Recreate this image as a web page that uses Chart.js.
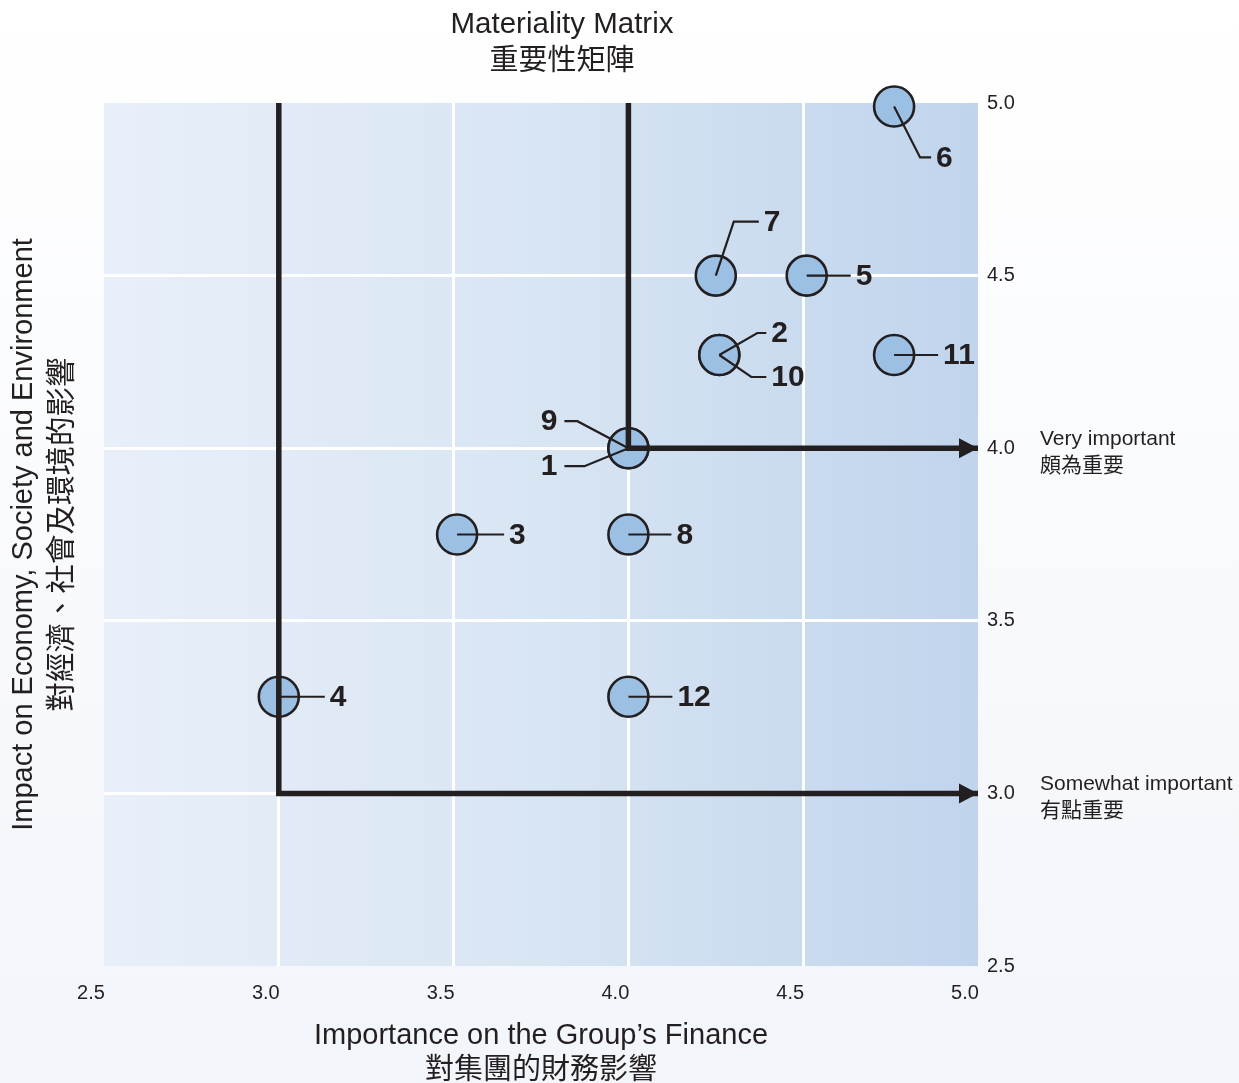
<!DOCTYPE html>
<html>
<head>
<meta charset="utf-8">
<title>Materiality Matrix</title>
<script src="https://cdn.jsdelivr.net/npm/chart.js@4.4.1/dist/chart.umd.min.js"></script>
<style>
  html, body { margin: 0; padding: 0; background: #fff; }
  #chart { display: block; }
</style>
</head>
<body>
<canvas id="chart" width="1239" height="1083"></canvas>
<script>
const issueIds = ['1', '2', '3', '4', '5', '6', '7', '8', '9', '10', '11', '12'];
const financeScores = [4.0, 4.26, 3.51, 3.0, 4.51, 4.76, 4.25, 4.0, 4.0, 4.26, 4.76, 4.0];
const impactScores = [4.0, 4.27, 3.75, 3.28, 4.5, 4.99, 4.5, 3.75, 4.0, 4.27, 4.27, 3.28];
const thresholds = [3.0, 4.0];
const thresholdNames = [['Somewhat important', '有點重要'], ['Very important', '頗為重要']];
const axisTicks = [2.5, 3.0, 3.5, 4.0, 4.5, 5.0];

// leader line per label: elbow offset from circle centre, then x where the flat end stops
const leaderLayout = [
    { elbow: [-44, 18], end: -64 },
    { elbow: [38, -22], end: 47 },
    { elbow: null, end: 47 },
    { elbow: null, end: 46 },
    { elbow: null, end: 44 },
    { elbow: [26, 51], end: 37 },
    { elbow: [18, -54], end: 43 },
    { elbow: null, end: 43 },
    { elbow: [-51, -27], end: -64 },
    { elbow: [32, 22], end: 47 },
    { elbow: null, end: 44 },
    { elbow: null, end: 44 }
];

const ink = '#231f20';
const latin = '"Liberation Sans", Arial, sans-serif';
const cjk = '"Noto Sans CJK TC", "Noto Sans CJK SC", sans-serif';

const ctx = document.querySelector('#chart').getContext('2d');

const points = issueIds.map((id, i) => ({ x: financeScores[i], y: impactScores[i] }));

const thresholdSets = thresholds.map(t => ({
    type: 'scatter',
    data: [{ x: t, y: axisTicks[axisTicks.length - 1] }, { x: t, y: t }, { x: axisTicks[axisTicks.length - 1], y: t }],
    showLine: true,
    borderColor: ink,
    borderWidth: 5.5,
    borderJoinStyle: 'miter',
    pointRadius: 0,
    order: 0
}));

const matrixDecor = {
    id: 'matrixDecor',
    beforeDraw(chart) {
        const { ctx, chartArea: a } = chart;
        ctx.save();
        const page = ctx.createLinearGradient(0, 0, 0, chart.height);
        page.addColorStop(0, '#ffffff');
        page.addColorStop(1, '#f2f5fa');
        ctx.fillStyle = page;
        ctx.fillRect(0, 0, chart.width, chart.height);

        const bg = ctx.createLinearGradient(a.left, 0, a.right, 0);
        bg.addColorStop(0, '#e8eff9');
        bg.addColorStop(0.5, '#d8e5f3');
        bg.addColorStop(1, '#c0d4ec');
        ctx.fillStyle = bg;
        ctx.fillRect(a.left, a.top, a.right - a.left, a.bottom - a.top);
        ctx.restore();
    },
    afterDatasetDraw(chart, args) {
        if (args.index !== 0) return;
        const { ctx } = chart;
        const meta = chart.getDatasetMeta(0);
        ctx.save();
        ctx.strokeStyle = ink;
        ctx.lineWidth = 2.2;
        ctx.fillStyle = ink;
        ctx.font = `bold 30px ${latin}`;
        ctx.textBaseline = 'middle';
        meta.data.forEach((pt, i) => {
            const lay = leaderLayout[i];
            const ex = lay.elbow ? pt.x + lay.elbow[0] : pt.x;
            const ey = lay.elbow ? pt.y + lay.elbow[1] : pt.y;
            ctx.beginPath();
            ctx.moveTo(pt.x, pt.y);
            ctx.lineTo(ex, ey);
            ctx.lineTo(pt.x + lay.end, ey);
            ctx.stroke();
            if (lay.end > 0) {
                ctx.textAlign = 'left';
                ctx.fillText(issueIds[i], pt.x + lay.end + 5, ey + 1);
            } else {
                ctx.textAlign = 'right';
                ctx.fillText(issueIds[i], pt.x + lay.end - 7, ey + 1);
            }
        });
        ctx.restore();
    },
    afterDatasetsDraw(chart) {
        const { ctx, scales } = chart;
        ctx.save();
        ctx.fillStyle = ink;
        thresholds.forEach((t, i) => {
            const tipX = scales.x.getPixelForValue(axisTicks[axisTicks.length - 1]);
            const tipY = scales.y.getPixelForValue(t);
            ctx.beginPath();
            ctx.moveTo(tipX, tipY);
            ctx.lineTo(tipX - 19, tipY - 10);
            ctx.lineTo(tipX - 19, tipY + 10);
            ctx.closePath();
            ctx.fill();

            ctx.textAlign = 'left';
            ctx.textBaseline = 'middle';
            ctx.font = `21px ${latin}`;
            ctx.fillText(thresholdNames[i][0], 1040, tipY - 9);
            ctx.font = `21px ${cjk}`;
            ctx.fillText(thresholdNames[i][1], 1040, tipY + 16);
        });
        ctx.restore();
    },
    afterDraw(chart) {
        const { ctx, chartArea: a } = chart;
        const midX = (a.left + a.right) / 2;
        const midY = (a.top + a.bottom) / 2;
        ctx.save();
        ctx.fillStyle = ink;
        ctx.textAlign = 'center';
        ctx.textBaseline = 'middle';

        ctx.font = `29.5px ${latin}`;
        ctx.fillText('Materiality Matrix', midX + 21, 25);
        ctx.font = `29px ${cjk}`;
        ctx.fillText('重要性矩陣', midX + 21, 59);

        ctx.font = `29px ${latin}`;
        ctx.fillText('Importance on the Group’s Finance', midX, 1036);
        ctx.font = `29px ${cjk}`;
        ctx.fillText('對集團的財務影響', midX, 1068);

        ctx.translate(24, midY);
        ctx.rotate(-Math.PI / 2);
        ctx.font = `29px ${latin}`;
        ctx.fillText('Impact on Economy, Society and Environment', 0, 0);
        ctx.font = `29.5px ${cjk}`;
        ctx.fillText('對經濟、社會及環境的影響', 0, 36);
        ctx.restore();
    }
};

const gridColor = c => (c.tick && (c.tick.value === axisTicks[0] || c.tick.value === axisTicks[axisTicks.length - 1]))
    ? 'rgba(255,255,255,0)' : '#ffffff';

const myChart = new Chart(ctx, {
    type: 'scatter',
    data: {
        datasets: [
            {
                data: points,
                backgroundColor: '#9cbfe4',
                borderColor: ink,
                borderWidth: 2.6,
                pointRadius: 20,
                pointHoverRadius: 20,
                clip: false,
                order: 1
            },
            ...thresholdSets
        ]
    },
    options: {
        responsive: false,
        animation: false,
        layout: { padding: { left: 104, top: 103, right: 0, bottom: 0 } },
        plugins: { legend: { display: false }, tooltip: { enabled: false } },
        scales: {
            x: {
                type: 'linear',
                min: axisTicks[0],
                max: axisTicks[axisTicks.length - 1],
                afterBuildTicks: scale => { scale.ticks = axisTicks.map(v => ({ value: v })); },
                afterFit: scale => { scale.height = 117; },
                border: { display: false },
                grid: { color: gridColor, lineWidth: 3, drawTicks: false },
                ticks: {
                    color: ink,
                    font: { family: latin, size: 20 },
                    padding: 15,
                    labelOffset: -13,
                    maxRotation: 0,
                    callback: v => v.toFixed(1)
                }
            },
            y: {
                type: 'linear',
                position: 'right',
                min: axisTicks[0],
                max: axisTicks[axisTicks.length - 1],
                afterBuildTicks: scale => { scale.ticks = axisTicks.map(v => ({ value: v })); },
                afterFit: scale => { scale.width = 261; },
                border: { display: false },
                grid: { color: gridColor, lineWidth: 3, drawTicks: false },
                ticks: {
                    color: ink,
                    font: { family: latin, size: 20 },
                    padding: 9,
                    callback: v => v.toFixed(1)
                }
            }
        }
    },
    plugins: [matrixDecor]
});
</script>
</body>
</html>
